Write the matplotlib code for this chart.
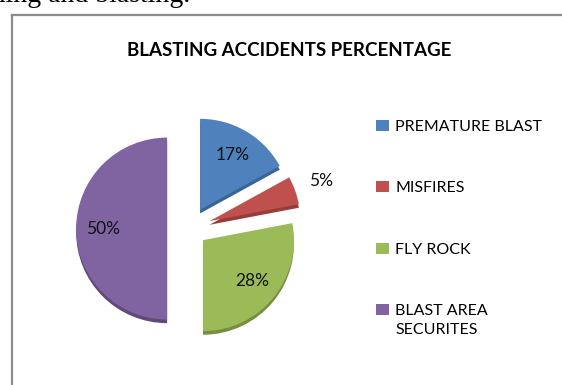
import matplotlib.pyplot as plt
from matplotlib.lines import Line2D
import numpy as np

categories = ['PREMATURE BLAST', 'MISFIRES', 'FLY ROCK', 'BLAST AREA\nSECURITES']
values = [17, 5, 28, 50]
colors = ['#4F81BD', '#C0504D', '#9BBB59', '#8064A2']
shade = ['#3a6496', '#963d3a', '#76903f', '#5f4a7c']
explode = [0.24, 0.24, 0.2, 0.24]

plt.rcParams['font.family'] = ['Lato', 'DejaVu Sans']

fig = plt.figure(figsize=(5.62, 3.85), dpi=100)

# text from the surrounding page, cut by the crop
fig.text(190 / 562, 1 - 2 / 385, 'mining and blasting.', ha='right', va='baseline',
         family='Liberation Serif', fontsize=20, color='black')

# chart frame (left and top edge visible)
fig.add_artist(Line2D([11.5 / 562, 11.5 / 562], [0, 1 - 14.5 / 385], color='#8c8c8c', lw=1.6))
fig.add_artist(Line2D([11.5 / 562, 1], [1 - 14.5 / 385, 1 - 14.5 / 385], color='#8c8c8c', lw=1.6))

fig.text(289 / 562, 1 - 50 / 385, 'BLASTING ACCIDENTS PERCENTAGE', ha='center', va='center',
         fontsize=13.5, fontweight='bold', color='black')

ax = fig.add_axes([0.0772, 0.0283, 0.518, 0.756])

# darker copy underneath for the 3d edge
ax.pie(values, explode=explode, colors=shade, startangle=90, counterclock=False,
       center=(0, -0.04), wedgeprops=dict(linewidth=0))
wedges, texts, autotexts = ax.pie(values, explode=explode, colors=colors, startangle=90,
                                  counterclock=False, autopct='%d%%', pctdistance=0.7,
                                  wedgeprops=dict(linewidth=0),
                                  textprops=dict(fontsize=12.5, color='#111111'))

# the small slice has its label outside
w = wedges[1]
mid = np.deg2rad((w.theta1 + w.theta2) / 2)
cx, cy = w.center
autotexts[1].set_position((cx + 1.3 * np.cos(mid), cy + 1.3 * np.sin(mid)))

ax.set_xlim(-1.6, 1.6)
ax.set_ylim(-1.6, 1.6)
ax.set_aspect('equal')
ax.axis('off')

leg = fig.legend(wedges, categories, loc='upper left', bbox_to_anchor=(376 / 562, 1 - 120 / 385),
                 frameon=False, fontsize=11.5, labelspacing=2.95, handlelength=0.8,
                 handleheight=0.7, handletextpad=0.4, borderpad=0, borderaxespad=0)
leg.get_texts()[3].set_linespacing(1.5)
# put the marker of the two-line entry next to its first line
h = leg.legend_handles[3]
h.set_y(h.get_y() + 8)

fig.savefig('out.png', dpi=100)
